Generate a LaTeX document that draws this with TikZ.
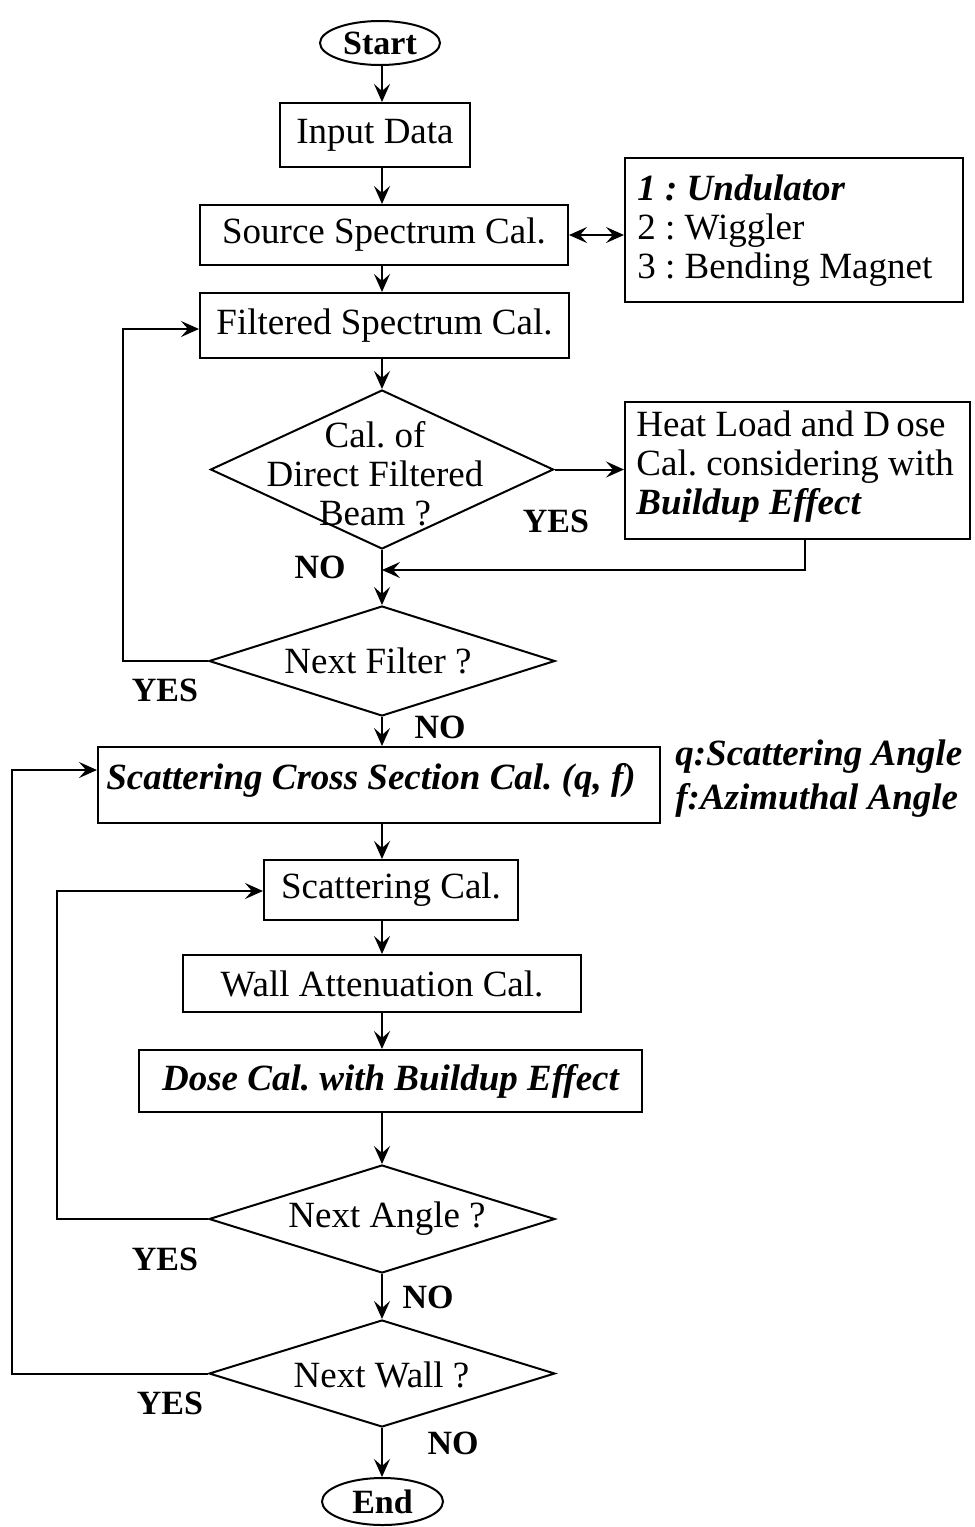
\documentclass[tikz,border=0pt]{standalone}
\usepackage{fontspec}
\setmainfont{Liberation Serif}
\usetikzlibrary{shapes.geometric,arrows.meta}
\frenchspacing
\begin{document}
\begin{tikzpicture}[x=0.5pt,y=-0.5pt,
  every node/.style={font=\fontsize{18.5pt}{19.5pt}\selectfont},
  box/.style={draw, line width=1pt, inner sep=0pt},
  term/.style={draw, ellipse, line width=1pt, inner sep=0pt,
    font=\fontsize{17pt}{19pt}\selectfont\bfseries},
  dia/.style={draw, diamond, line width=1pt, inner sep=0pt},
  lbl/.style={font=\fontsize{17pt}{19pt}\selectfont\bfseries, inner sep=0pt},
  note/.style={font=\fontsize{18.5pt}{19.5pt}\selectfont\bfseries\itshape, inner sep=0pt},
  arr/.style={-{Stealth[length=9pt,width=8pt,inset=3.5pt]}, line width=1pt},
  darr/.style={{Stealth[length=9pt,width=8pt,inset=3.5pt]}-{Stealth[length=9pt,width=8pt,inset=3.5pt]}, line width=1pt}]
\useasboundingbox (0,0) rectangle (975,1527);

% main column
\coordinate (col) at (382,0);

% terminals and process boxes
\node[term, minimum width=60pt, minimum height=22pt] (start) at (380,43) {Start};
\node[box, minimum width=95pt, minimum height=32pt] (input) at (375,135) {Input Data};
\node[box, minimum width=184pt, minimum height=30pt] (source) at (384,235) {Source Spectrum Cal.};
\node[box, minimum width=169pt, minimum height=72pt] (options) at (794,230) {};
\node[inner sep=0pt, anchor=west, align=left] (optiontext) at (637,231)
  {\textbf{\textit{1 : Undulator}}\\2 : Wiggler\\3 : Bending Magnet};
\node[box, minimum width=184.5pt, minimum height=32.5pt] (filtered) at (384.5,325.5) {Filtered Spectrum Cal.};

% first decision
\node[dia, minimum width=171.5pt, minimum height=79.5pt] (d1) at (382,469.5) {};
\node[align=center, inner sep=0pt] (d1text) at (375,474) {Cal. of\\Direct Filtered\\Beam ?};
\node[box, minimum width=172.5pt, minimum height=68.5pt] (heat) at (797.5,470.5) {};
\node[inner sep=0pt, anchor=west, align=left] (heattext) at (636,467)
  {Heat Load and D\,ose\\Cal. considering with\\\textbf{\textit{Buildup Effect}}};
\node[lbl] (yes1) at (556,521) {YES};
\node[lbl] (no1) at (320,567) {NO};

% second decision
\node[dia, minimum width=173pt, minimum height=55pt] (d2) at (382,661) {};
\node[inner sep=0pt] (d2text) at (378,661) {Next Filter ?};
\node[lbl] (yes2) at (165,690) {YES};
\node[lbl] (no2) at (440,727) {NO};

% scattering part
\node[box, minimum width=281pt, minimum height=38pt] (scat) at (379,785) {};
\node[inner sep=0pt, font=\fontsize{18.5pt}{19.5pt}\selectfont\bfseries\itshape] (scattext) at (371,780)
  {Scattering Cross Section Cal. (q, f)};
\node[note, anchor=west] (qnote) at (675,757) {q:Scattering Angle};
\node[note, anchor=west] (fnote) at (675,800) {f:Azimuthal Angle};
\node[box, minimum width=127pt, minimum height=30pt] (scal) at (391,890) {Scattering Cal.};
\node[box, minimum width=199pt, minimum height=28.5pt] (wall) at (382,983.5) {Wall Attenuation Cal.};
\node[box, minimum width=251.5pt, minimum height=31pt, font=\fontsize{18.5pt}{19.5pt}\selectfont\bfseries\itshape] (dose) at (390.5,1081)
  {Dose Cal. with Buildup Effect};

% angle and wall decisions
\node[dia, minimum width=173pt, minimum height=54pt] (dang) at (382,1219) {};
\node[inner sep=0pt] (dangtext) at (387,1219) {Next Angle ?};
\node[lbl] (yes3) at (165,1259) {YES};
\node[lbl] (no3) at (428,1297) {NO};
\node[dia, minimum width=173pt, minimum height=53.5pt] (dwall) at (382,1373.5) {};
\node[inner sep=0pt] (dwalltext) at (381.5,1375) {Next Wall ?};
\node[lbl] (yes4) at (170,1403) {YES};
\node[lbl] (no4) at (453,1443) {NO};
\node[term, minimum width=60.5pt, minimum height=23.5pt] (end) at (382.5,1501.5) {End};

% loop turning points
\coordinate (hturn) at (805,570);
\coordinate (loopf) at (123,329);
\coordinate (loopw) at (12,770);
\coordinate (loopa) at (57,891);

% main flow
\draw[arr] (start.south -| col) -- (input.north -| col);
\draw[arr] (input.south -| col) -- (source.north -| col);
\draw[darr] (source.east) -- (options.west |- source.east);
\draw[arr] (source.south -| col) -- (filtered.north -| col);
\draw[arr] (filtered.south -| col) -- (d1.north);
\draw[arr] (d1.east) -- (heat.west |- d1.east);
\draw[arr] (heat.south -| hturn) -- (hturn) -- (d1.south |- hturn);
\draw[arr] (d1.south) -- (d2.north);
\draw[arr] (d2.west) -| (loopf) -- (filtered.west |- loopf);
\draw[arr] (d2.south) -- (scat.north -| col);
\draw[arr] (scat.south -| col) -- (scal.north -| col);
\draw[arr] (scal.south -| col) -- (wall.north -| col);
\draw[arr] (wall.south -| col) -- (dose.north -| col);
\draw[arr] (dose.south -| col) -- (dang.north);
\draw[arr] (dang.west) -| (loopa) -- (scal.west |- loopa);
\draw[arr] (dang.south) -- (dwall.north);
\draw[arr] (dwall.west) -| (loopw) -- (scat.west |- loopw);
\draw[arr] (dwall.south) -- (end.north -| col);
\end{tikzpicture}
\end{document}
